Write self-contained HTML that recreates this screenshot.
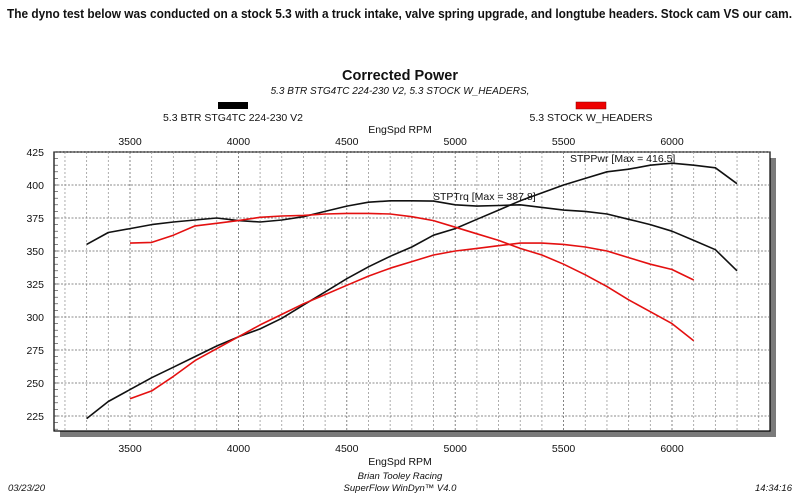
<!DOCTYPE html>
<html><head><meta charset="utf-8"><style>
body{margin:0;background:#fff;width:800px;height:499px;overflow:hidden}
svg{display:block}
text{font-family:"Liberation Sans",sans-serif;fill:#111}
</style></head><body>
<svg id="s" width="800" height="499" xmlns="http://www.w3.org/2000/svg">
<text x="7" y="18" font-size="12.5" font-weight="bold" textLength="785" lengthAdjust="spacingAndGlyphs">The dyno test below was conducted on a stock 5.3 with a truck intake, valve spring upgrade, and longtube headers. Stock cam VS our cam.</text>
<text x="400" y="80" font-size="15" font-weight="bold" text-anchor="middle" textLength="116" lengthAdjust="spacingAndGlyphs">Corrected Power</text>
<text x="400" y="94" font-size="10" font-style="italic" text-anchor="middle">5.3 BTR STG4TC 224-230 V2, 5.3 STOCK W_HEADERS,</text>
<rect x="218" y="102" width="30" height="7" fill="#000"/>
<rect x="576" y="102" width="30" height="7" fill="#e00" stroke="#800" stroke-width="0.5"/>
<text x="233" y="121" font-size="10.5" text-anchor="middle">5.3 BTR STG4TC 224-230 V2</text>
<text x="591" y="121" font-size="10.5" text-anchor="middle">5.3 STOCK W_HEADERS</text>
<text x="400" y="133" font-size="10.5" text-anchor="middle">EngSpd RPM</text>
<text x="400" y="465" font-size="10.5" text-anchor="middle">EngSpd RPM</text>
<text x="400" y="479" font-size="9.5" font-style="italic" text-anchor="middle">Brian Tooley Racing</text>
<text x="400" y="491" font-size="9.5" font-style="italic" text-anchor="middle">SuperFlow WinDyn™ V4.0</text>
<text x="8" y="491" font-size="9.5" font-style="italic">03/23/20</text>
<text x="792" y="491" font-size="9.5" font-style="italic" text-anchor="end">14:34:16</text>
<rect x="60" y="158" width="716" height="279" fill="#7a7a7a"/>
<rect x="54" y="152" width="716" height="279" fill="#fff" stroke="#000" stroke-width="1.2"/>
<g id="g"></g>
</svg>
<script>
var NS="http://www.w3.org/2000/svg",g=document.getElementById('g');
function X(r){return 130+(r-3500)*0.2168}
function Y(v){return 152+(425-v)*1.32}
function el(t,a,txt){var e=document.createElementNS(NS,t);for(var k in a)e.setAttribute(k,a[k]);if(txt)e.textContent=txt;g.appendChild(e);return e}
for(var r=3200;r<=6400;r+=100){var x=X(r);el('line',{x1:x,y1:152,x2:x,y2:431,stroke:r%500==0?'#666':'#999','stroke-width':0.8,'stroke-dasharray':'2,2'});}
for(var v=225;v<=425;v+=25){var y=Y(v);el('line',{x1:54,y1:y,x2:770,y2:y,stroke:'#666','stroke-width':0.8,'stroke-dasharray':'2,1.5'});el('text',{x:44,y:y+4,'font-size':10.5,'text-anchor':'end'},String(v));}
for(var v=215;v<=425;v+=5){var y=Y(v);if(y<431)el('line',{x1:54,y1:y,x2:58,y2:y,stroke:'#333','stroke-width':0.6});}
for(var r=3500;r<=6000;r+=500){el('text',{x:X(r),y:145,'font-size':10.5,'text-anchor':'middle'},String(r));el('text',{x:X(r),y:452,'font-size':10.5,'text-anchor':'middle'},String(r));}
function line(start,vals,col){var p=vals.map(function(v,i){return X(start+i*100).toFixed(1)+','+Y(v).toFixed(1)}).join(' ');el('polyline',{points:p,fill:'none',stroke:col,'stroke-width':1.6,'stroke-linejoin':'round'});}
line(3300,[223,236,245,254,262,270,278,285,291,299,309,319,329,338,346,353,362,367,374,381,388,394,400,405,410,412,415,416.5,415,413,401],'#111');
line(3300,[355,364,367,370,372,373.5,375,373,372,373.5,376,380,384,387,388,388,387.8,385,384,384.5,385,383,381,380,378,374,370,365,358,351,335],'#111');
line(3500,[356,356.5,362,369,371,373,375.5,376.5,377,378,378.5,378.5,378,376,373,368,363,358,352,347,340,332,323,313,304,295,282],'#e41010');
line(3500,[238,244,255,267,276,285,294,302,310,317,324,331,337,342,347,350,352,354,356,356,355,353,350,345,340,336,328],'#e41010');
el('text',{x:570,y:162,'font-size':10.5},'STPPwr [Max = 416.5]');
el('text',{x:433,y:200,'font-size':10.5},'STPTrq [Max = 387.8]');
</script>
</body></html>
